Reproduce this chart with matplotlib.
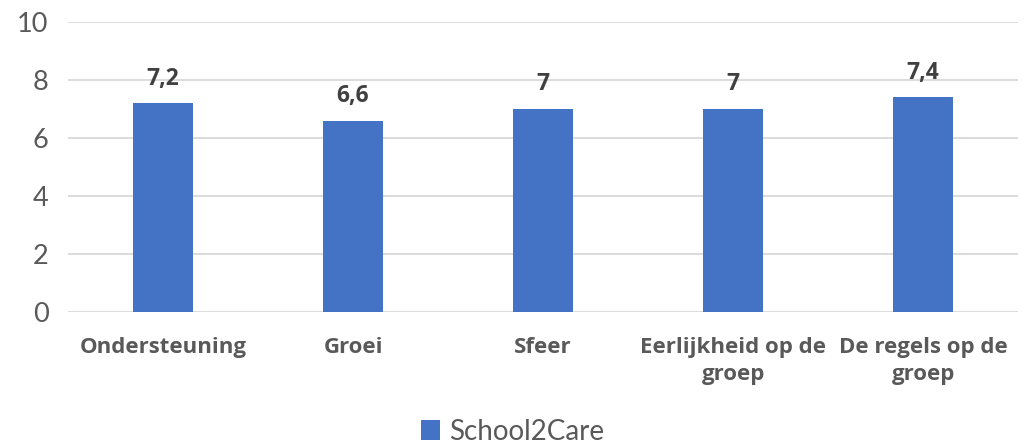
import matplotlib.pyplot as plt

plt.rcParams['font.family'] = ['Lato', 'DejaVu Sans']

categories = ['Ondersteuning', 'Groei', 'Sfeer',
              'Eerlijkheid op de\ngroep', 'De regels op de\ngroep']
scores = [7.2, 6.6, 7.0, 7.0, 7.4]
score_labels = ['7,2', '6,6', '7', '7', '7,4']
series_name = 'School2Care'

blue = '#4472C4'
grey = '#595959'
bold_font = ['Open Sans', 'DejaVu Sans']

fig = plt.figure(figsize=(10.25, 4.45), dpi=100)
ax = fig.add_axes([0.0663, 0.2989, 0.927, 0.6517])

x = range(len(categories))
bars = ax.bar(x, scores, width=0.316, color=blue, label=series_name, zorder=3)

for b, txt in zip(bars, score_labels):
    ax.annotate(txt, (b.get_x() + b.get_width() / 2, b.get_height()),
                xytext=(0, 9), textcoords='offset points',
                ha='center', va='bottom', fontsize=16.5, fontweight='bold',
                family=bold_font, color='#404040')

ax.set_xlim(-0.5, len(categories) - 0.5)
ax.set_ylim(0, 10)
ax.set_yticks(range(0, 11, 2))
ax.yaxis.grid(True, color='#D9D9D9', lw=1.3, zorder=0)
ax.set_axisbelow(True)

for s in ax.spines.values():
    s.set_visible(False)

ax.set_xticks(list(x))
ax.set_xticklabels(categories, fontsize=16, fontweight='bold', color=grey,
                   family=bold_font, linespacing=1.4, va='top')
ax.tick_params(axis='x', length=0, pad=18)
ax.tick_params(axis='y', length=0, labelsize=19.5, labelcolor=grey, pad=14)

fig.legend(handles=[bars], labels=[series_name], loc='center',
           bbox_to_anchor=(0.5, 0.03), frameon=False, fontsize=20,
           labelcolor=grey, handlelength=0.7, handleheight=0.7,
           handletextpad=0.3)

fig.savefig('out.png', dpi=100)
